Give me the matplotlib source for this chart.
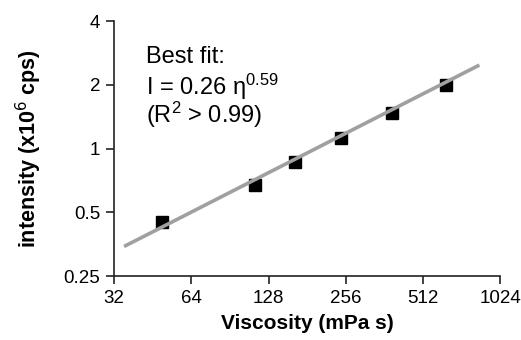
import numpy as np
import matplotlib.pyplot as plt
from matplotlib.ticker import FixedLocator, NullLocator

plt.rcParams['font.family'] = ['Liberation Sans', 'DejaVu Sans']

# measured points
viscosity = [49, 113, 163, 246, 388, 630]
intensity = [0.45, 0.67, 0.86, 1.12, 1.47, 2.0]

# best fit line ends
fit_x = [35, 850]
fit_y = [0.345, 2.48]

xticks = [32, 64, 128, 256, 512, 1024]
yticks = [0.25, 0.5, 1, 2, 4]
ylabels = ['0.25', '0.5', '1', '2', '4']

fig = plt.figure(figsize=(5.21, 3.40), dpi=100)
ax = fig.add_axes([0.219, 0.188, 0.741, 0.75])

ax.plot(fit_x, fit_y, color='#a0a0a0', lw=2.6, solid_capstyle='butt', zorder=3)
ax.plot(viscosity, intensity, 's', color='black', ms=9, zorder=2)

ax.set_xscale('log', base=2)
ax.set_yscale('log', base=2)
ax.set_xlim(32, 1024)
ax.set_ylim(0.25, 4)
ax.xaxis.set_major_locator(FixedLocator(xticks))
ax.xaxis.set_minor_locator(NullLocator())
ax.yaxis.set_major_locator(FixedLocator(yticks))
ax.yaxis.set_minor_locator(NullLocator())
ax.set_xticklabels([str(t) for t in xticks])
ax.set_yticklabels(ylabels)

for s in ['top', 'right']:
    ax.spines[s].set_visible(False)
for s in ['left', 'bottom']:
    ax.spines[s].set_linewidth(1.2)
    ax.spines[s].set_color('#222222')
ax.tick_params(direction='out', length=6, width=1.2, color='#222222',
               labelsize=13.5, pad=4)

ax.set_xlabel('Viscosity (mPa s)', fontsize=15, fontweight='bold', labelpad=5)
ax.set_ylabel('intensity (x10$^{6}$ cps)', fontsize=15.5, fontweight='bold', labelpad=14)

ax.text(0.083, 0.835, 'Best fit:', transform=ax.transAxes, fontsize=17, va='baseline')
ax.text(0.083, 0.71, r'I = 0.26 $\mathregular{\eta^{0.59}}$', transform=ax.transAxes,
        fontsize=17, va='baseline')
ax.text(0.083, 0.60, r'(R$\mathregular{^2}$ > 0.99)', transform=ax.transAxes,
        fontsize=17, va='baseline')

fig.savefig('out.png', dpi=100)
